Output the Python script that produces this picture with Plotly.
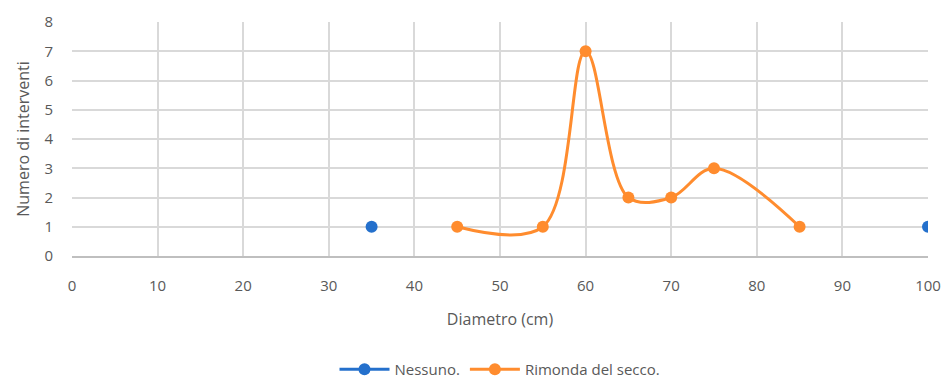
import plotly.graph_objects as go

# Diameter classes (cm) and number of interventions per class
nessuno_x = [35, 40, 100]
nessuno_y = [1, None, 1]

secco_x = [45, 55, 60, 65, 70, 75, 85]
secco_y = [1, 1, 7, 2, 2, 3, 1]

x_ticks = [0, 10, 20, 30, 40, 50, 60, 70, 80, 90, 100]
y_ticks = [0, 1, 2, 3, 4, 5, 6, 7, 8]

FONT = "Open Sans, Liberation Sans, sans-serif"
TXT = "#595959"
GRID = "#D9D9D9"

fig = go.Figure()
fig.add_trace(go.Scatter(
    x=nessuno_x, y=nessuno_y, name="Nessuno.",
    mode="lines+markers", connectgaps=False,
    line=dict(color="#2470CC", width=3),
    marker=dict(color="#2470CC", size=12),
))
fig.add_trace(go.Scatter(
    x=secco_x, y=secco_y, name="Rimonda del secco.",
    mode="lines+markers",
    line=dict(color="#FF8C2E", width=3, shape="spline", smoothing=1.0),
    marker=dict(color="#FF8C2E", size=12),
))

fig.update_layout(
    width=944, height=385,
    margin=dict(l=72, r=16, t=22, b=129, autoexpand=False),
    paper_bgcolor="white", plot_bgcolor="white",
    font=dict(family=FONT, color=TXT, size=14),
    showlegend=True,
    legend=dict(orientation="h", x=0.5, xanchor="center",
                yref="container", y=0.04, yanchor="middle",
                font=dict(size=15, color=TXT), itemwidth=50),
    xaxis=dict(
        range=[0, 100], tickvals=x_ticks, showgrid=True, gridcolor=GRID, gridwidth=1.5,
        showline=True, linecolor="#BFBFBF", linewidth=2, zeroline=False,
        ticks="", tickfont=dict(size=15, color=TXT), ticklabelstandoff=15,
        automargin=False,
        title=dict(text="Diametro (cm)", font=dict(size=16, color=TXT), standoff=20),
    ),
    yaxis=dict(
        range=[0, 8], tickvals=y_ticks, showgrid=True, gridcolor=GRID, gridwidth=1.5,
        zeroline=False, showline=False, ticks="", tickfont=dict(size=15, color=TXT),
        ticklabelstandoff=18, automargin=False,
        title=dict(text="Numero di interventi", font=dict(size=16, color=TXT), standoff=10),
    ),
)

fig.write_html("out.html")
